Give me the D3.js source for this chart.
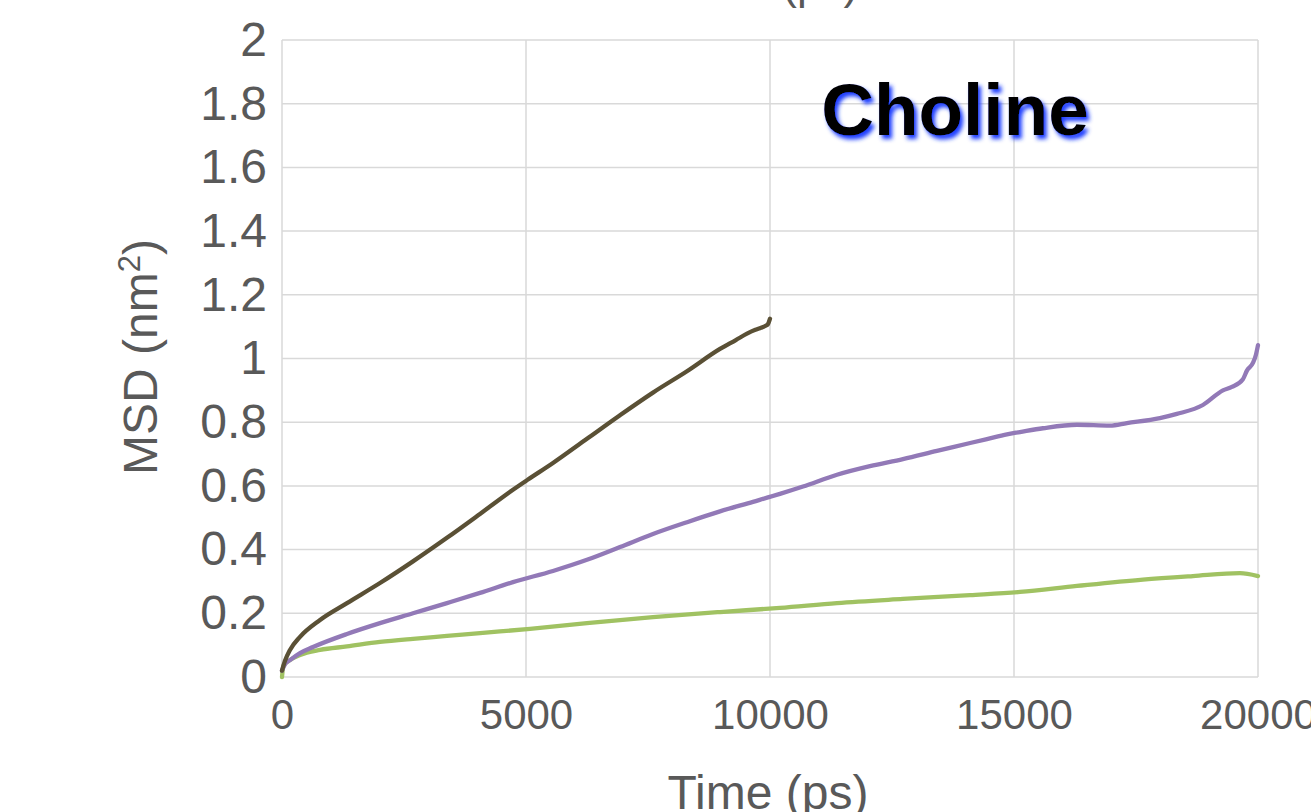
<!DOCTYPE html>
<html>
<head>
<meta charset="utf-8">
<script src="https://cdn.jsdelivr.net/npm/d3@7"></script>
<style>
  html, body { margin: 0; padding: 0; background: #fff; }
  svg { display: block; }
  text { font-family: "Liberation Sans", Arial, sans-serif; }
</style>
</head>
<body>
<svg id="chart" width="1311" height="812"></svg>
<script>
// ---- Data ----
const xTicks = [0, 5000, 10000, 15000, 20000];
const yTicks = [0, 0.2, 0.4, 0.6, 0.8, 1, 1.2, 1.4, 1.6, 1.8, 2];

const darkT = [0, 60, 164, 369, 779, 1332, 2008, 2684, 3380, 4057, 4733, 5040, 5553, 6249, 6926, 7602, 8298, 8975, 9300, 9528, 9700, 9794, 9900, 9958, 10000];
const darkV = [0.02, 0.05, 0.085, 0.126, 0.179, 0.232, 0.295, 0.363, 0.437, 0.512, 0.588, 0.620, 0.672, 0.748, 0.822, 0.893, 0.960, 1.030, 1.058, 1.078, 1.090, 1.095, 1.102, 1.108, 1.125];

const purpleT = [0, 60, 164, 369, 635, 1332, 2008, 2684, 3380, 4057, 4733, 5553, 6249, 6926, 7602, 8298, 8975, 9651, 10204, 10676, 11372, 12048, 12724, 13421, 13749, 14446, 14856, 15122, 15593, 16290, 16966, 17314, 17990, 18338, 18871, 19281, 19465, 19691, 19773, 19896, 19958, 20000];
const purpleV = [0.02, 0.04, 0.053, 0.075, 0.094, 0.135, 0.169, 0.2, 0.232, 0.264, 0.298, 0.333, 0.368, 0.408, 0.449, 0.486, 0.520, 0.550, 0.575, 0.598, 0.635, 0.662, 0.684, 0.71, 0.722, 0.747, 0.762, 0.769, 0.781, 0.792, 0.789, 0.797, 0.813, 0.826, 0.854, 0.900, 0.911, 0.935, 0.962, 0.986, 1.012, 1.042];

const greenT = [0, 30, 164, 369, 779, 1332, 2008, 2684, 3380, 4057, 5082, 6249, 7602, 8975, 10204, 11372, 12724, 14097, 15122, 16290, 17642, 18666, 19630, 20000];
const greenV = [0.0, 0.035, 0.053, 0.069, 0.085, 0.096, 0.11, 0.12, 0.129, 0.138, 0.151, 0.169, 0.188, 0.204, 0.217, 0.232, 0.245, 0.257, 0.267, 0.286, 0.306, 0.317, 0.326, 0.317];

const seriesColors = ["#5a5035", "#9279b7", "#a0c262"];

// ---- Layout ----
const svg = d3.select("#chart");
const x = d3.scaleLinear().domain([0, 20000]).range([282, 1258]);
const y = d3.scaleLinear().domain([0, 2]).range([677, 40]);

const defs = svg.append("defs");
const f = defs.append("filter").attr("id", "shadow")
  .attr("x", "-10%").attr("y", "-20%").attr("width", "130%").attr("height", "150%");
f.append("feDropShadow").attr("dx", 3).attr("dy", 4).attr("stdDeviation", 2.3)
  .attr("flood-color", "#1a3cff").attr("flood-opacity", 1);

// Clipped remnant of a title above
svg.append("text").attr("x", 766).attr("y", -1)
  .attr("text-anchor", "middle").attr("font-size", 44).attr("fill", "#595959")
  .text("Time (ps)");

// Gridlines
svg.append("g").selectAll("line").data(yTicks).join("line")
  .attr("x1", x(0)).attr("x2", x(20000))
  .attr("y1", d => y(d)).attr("y2", d => y(d))
  .attr("stroke", "#d9d9d9").attr("stroke-width", 1.5);
svg.append("g").selectAll("line").data(xTicks).join("line")
  .attr("y1", y(0)).attr("y2", y(2))
  .attr("x1", d => x(d)).attr("x2", d => x(d))
  .attr("stroke", "#d9d9d9").attr("stroke-width", 1.5);

// Axes (labels only)
const yAxis = d3.axisLeft(y).tickValues(yTicks).tickSize(0).tickPadding(15)
  .tickFormat(d => d3.format("")(+d.toFixed(1)));
const gy = svg.append("g").attr("transform", `translate(${x(0)},0)`).call(yAxis);
gy.select(".domain").remove();
gy.selectAll("text").attr("font-size", 48).attr("fill", "#595959")
  .attr("font-family", "Liberation Sans, Arial, sans-serif");

const xAxis = d3.axisBottom(x).tickValues(xTicks).tickSize(0).tickPadding(22)
  .tickFormat(d3.format("d"));
const gx = svg.append("g").attr("transform", `translate(0,${y(0)})`).call(xAxis);
gx.select(".domain").remove();
gx.selectAll("text").attr("font-size", 42).attr("fill", "#595959")
  .attr("font-family", "Liberation Sans, Arial, sans-serif");

// Axis titles
svg.append("text").attr("x", 768).attr("y", 809)
  .attr("text-anchor", "middle").attr("font-size", 48).attr("fill", "#595959")
  .text("Time (ps)");
const yt = svg.append("text")
  .attr("transform", "translate(157,357) rotate(-90)")
  .attr("text-anchor", "middle").attr("font-size", 48).attr("fill", "#595959");
yt.append("tspan").text("MSD (nm");
yt.append("tspan").attr("font-size", 31).attr("dy", -17).text("2");
yt.append("tspan").attr("dy", 17).text(")");

// Lines
const series = [
  { t: darkT, v: darkV, c: seriesColors[0] },
  { t: purpleT, v: purpleV, c: seriesColors[1] },
  { t: greenT, v: greenV, c: seriesColors[2] }
];
const line = d3.line().x(d => x(d[0])).y(d => y(d[1])).curve(d3.curveMonotoneX);
[2, 1, 0].forEach(i => {
  const s = series[i];
  svg.append("path")
    .datum(s.t.map((t, k) => [t, s.v[k]]))
    .attr("d", line)
    .attr("fill", "none").attr("stroke", s.c)
    .attr("stroke-width", 4.3).attr("stroke-linejoin", "round").attr("stroke-linecap", "round");
});

// Annotation
svg.append("text").attr("x", 955).attr("y", 135)
  .attr("text-anchor", "middle").attr("font-size", 73).attr("font-weight", "bold")
  .attr("fill", "#000").attr("filter", "url(#shadow)")
  .text("Choline");
</script>
</body>
</html>
